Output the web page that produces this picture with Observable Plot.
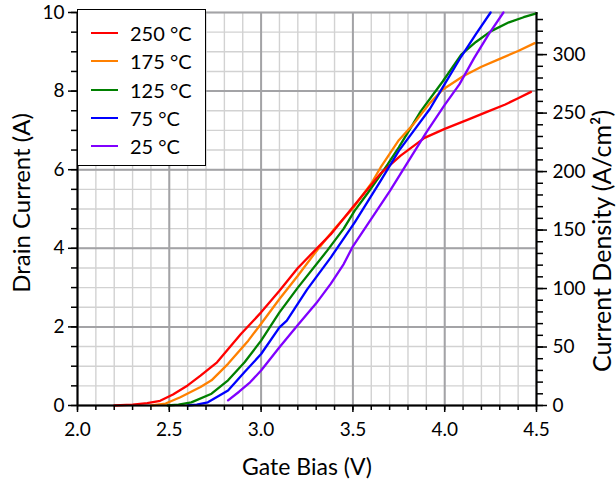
<!DOCTYPE html>
<html>
<head>
<meta charset="utf-8">
<script src="https://cdn.jsdelivr.net/npm/d3@7"></script>
<script src="https://cdn.jsdelivr.net/npm/@observablehq/plot@0.6"></script>
<style>
  html, body { margin: 0; padding: 0; background: #fff; }
  #wrap { position: relative; width: 616px; height: 480px; font-family: Lato, "Open Sans", sans-serif; }
  #legend { position: absolute; left: 77px; top: 9px; width: 127px; height: 155px; background: #fff; border: 1.5px solid #000; box-sizing: content-box; }
  .row { position: absolute; left: 0; height: 20px; display: flex; align-items: center; }
  .sw { width: 27px; height: 0; border-top: 2.5px solid; margin-left: 13px; margin-right: 12px; }
  .lb { font-size: 20px; color: #000; white-space: nowrap; }
</style>
</head>
<body>
<div id="wrap"><div id="legend"></div></div>
<script>
// Series: [gate bias (V), drain current (A)]
const s250 = [[2.20,0.00],[2.30,0.02],[2.38,0.06],[2.45,0.12],[2.52,0.28],[2.60,0.51],[2.67,0.76],[2.76,1.10],[2.89,1.82],[2.95,2.12],[3.00,2.37],[3.10,2.92],[3.20,3.50],[3.30,3.98],[3.38,4.36],[3.50,5.05],[3.58,5.50],[3.65,5.90],[3.76,6.36],[3.89,6.81],[4.00,7.04],[4.13,7.28],[4.23,7.47],[4.33,7.66],[4.40,7.82],[4.47,7.98]];
const s175 = [[2.40,0.00],[2.48,0.05],[2.56,0.21],[2.67,0.47],[2.73,0.64],[2.82,1.06],[2.93,1.65],[3.00,2.08],[3.10,2.71],[3.20,3.30],[3.29,3.86],[3.40,4.50],[3.50,5.02],[3.60,5.65],[3.65,6.05],[3.75,6.75],[3.83,7.16],[3.92,7.70],[3.99,8.04],[4.10,8.38],[4.20,8.62],[4.30,8.82],[4.40,9.02],[4.49,9.22]];
const s125 = [[2.49,0.00],[2.55,0.02],[2.62,0.08],[2.73,0.30],[2.82,0.64],[2.91,1.10],[3.00,1.65],[3.10,2.37],[3.20,3.00],[3.36,3.94],[3.45,4.50],[3.51,4.96],[3.58,5.40],[3.64,5.80],[3.69,6.14],[3.75,6.57],[3.87,7.49],[3.99,8.25],[4.09,8.93],[4.17,9.25],[4.25,9.52],[4.35,9.75],[4.43,9.88],[4.50,9.98]];
const s75  = [[2.60,0.00],[2.65,0.02],[2.71,0.08],[2.82,0.38],[2.91,0.85],[3.00,1.31],[3.10,1.99],[3.14,2.16],[3.25,2.95],[3.38,3.77],[3.51,4.66],[3.65,5.71],[3.75,6.48],[3.83,6.98],[3.92,7.55],[3.99,8.10],[4.09,8.88],[4.17,9.45],[4.25,10.00]];
const s25  = [[2.82,0.13],[2.88,0.35],[2.94,0.59],[3.00,0.89],[3.10,1.48],[3.20,2.05],[3.30,2.60],[3.38,3.10],[3.45,3.60],[3.50,4.05],[3.60,4.75],[3.70,5.45],[3.80,6.20],[3.90,6.95],[4.00,7.65],[4.08,8.17],[4.16,8.84],[4.24,9.45],[4.32,10.00]];

const temps  = ["250 °C", "175 °C", "125 °C", "75 °C", "25 °C"];
const colors = ["#ff0000", "#ff8000", "#008000", "#0000ff", "#8000ff"];
const seriesByTemp = {"250 °C": s250, "175 °C": s175, "125 °C": s125, "75 °C": s75, "25 °C": s25};
const drawOrder = ["125 °C", "175 °C", "250 °C", "75 °C", "25 °C"];

// Axis ticks
const xMajor = [2.0, 2.5, 3.0, 3.5, 4.0, 4.5];
const yMajor = [0, 2, 4, 6, 8, 10];
const densityMajor = [0, 50, 100, 150, 200, 250, 300];
const K = 33.6; // A/cm² per A
const xMinor = d3.range(20, 46, 1).map(d => d / 10);
const yMinor = d3.range(0, 21, 1).map(d => d / 2);
const densityMinor = d3.range(0, 340, 10);

const table = drawOrder.flatMap(t => seriesByTemp[t].map(([v, i]) => ({t, v, i})));

const majorGrid = "#a3a3a6", minorGrid = "#d2d2d2";

const plot = Plot.plot({
  width: 616, height: 480,
  marginLeft: 77, marginRight: 80, marginTop: 12, marginBottom: 75,
  style: {fontFamily: "Lato, 'Open Sans', sans-serif", fontSize: "19px", color: "#000", background: "#fff"},
  x: {domain: [2, 4.5]},
  y: {domain: [0, 10]},
  color: {domain: temps, range: colors},
  marks: [
    Plot.gridX(xMinor, {stroke: minorGrid, strokeOpacity: 1, strokeWidth: 1.4}),
    Plot.gridY(yMinor, {stroke: minorGrid, strokeOpacity: 1, strokeWidth: 1.4}),
    Plot.gridX(xMajor, {stroke: majorGrid, strokeOpacity: 1, strokeWidth: 2}),
    Plot.gridY(yMajor, {stroke: majorGrid, strokeOpacity: 1, strokeWidth: 2}),
    Plot.line(table, {x: "v", y: "i", z: "t", stroke: "t", strokeWidth: 2.3}),
    Plot.ruleX([2], {stroke: "#000", strokeWidth: 2}),
    Plot.ruleX([4.5], {stroke: "#000", strokeWidth: 2}),
    Plot.ruleY([0], {stroke: "#000", strokeWidth: 2}),
    Plot.axisX(xMinor, {anchor: "bottom", tickSize: 5, strokeWidth: 1.5, tickFormat: () => "", label: null}),
    Plot.axisX(xMajor, {anchor: "bottom", tickSize: 7, strokeWidth: 1.5, tickPadding: 10, tickFormat: d => d.toFixed(1), label: null}),
    Plot.axisY(yMinor, {anchor: "left", tickSize: 6, strokeWidth: 1.5, tickFormat: () => "", label: null}),
    Plot.axisY(yMajor, {anchor: "left", tickSize: 9, strokeWidth: 1.5, tickPadding: 4, label: null}),
    Plot.axisY(densityMinor.map(d => d / K), {anchor: "right", tickSize: 6, strokeWidth: 1.5, tickFormat: () => "", label: null}),
    Plot.axisY(densityMajor.map(d => d / K), {anchor: "right", tickSize: 10, strokeWidth: 1.5, tickPadding: 6, tickFormat: d => String(Math.round(d * K)), label: null}),
    Plot.text(["Gate Bias (V)"], {frameAnchor: "bottom", textAnchor: "middle", lineAnchor: "middle", dy: 62, fontSize: 23}),
    Plot.text(["Drain Current (A)"], {frameAnchor: "left", textAnchor: "middle", lineAnchor: "middle", dx: -55, dy: -6, rotate: -90, fontSize: 24}),
    Plot.text(["Current Density (A/cm²)"], {frameAnchor: "right", textAnchor: "middle", lineAnchor: "middle", dx: 66, dy: 32, rotate: -90, fontSize: 25})
  ]
});
const wrap = document.getElementById("wrap");
wrap.insertBefore(plot, wrap.firstChild);

const legend = document.getElementById("legend");
temps.forEach((t, k) => {
  const row = document.createElement("div");
  row.className = "row";
  row.style.top = (13 + k * 28.3) + "px";
  const sw = document.createElement("div");
  sw.className = "sw";
  sw.style.borderTopColor = colors[k];
  const lb = document.createElement("span");
  lb.className = "lb";
  lb.textContent = t;
  row.appendChild(sw); row.appendChild(lb);
  legend.appendChild(row);
});
</script>
</body>
</html>
